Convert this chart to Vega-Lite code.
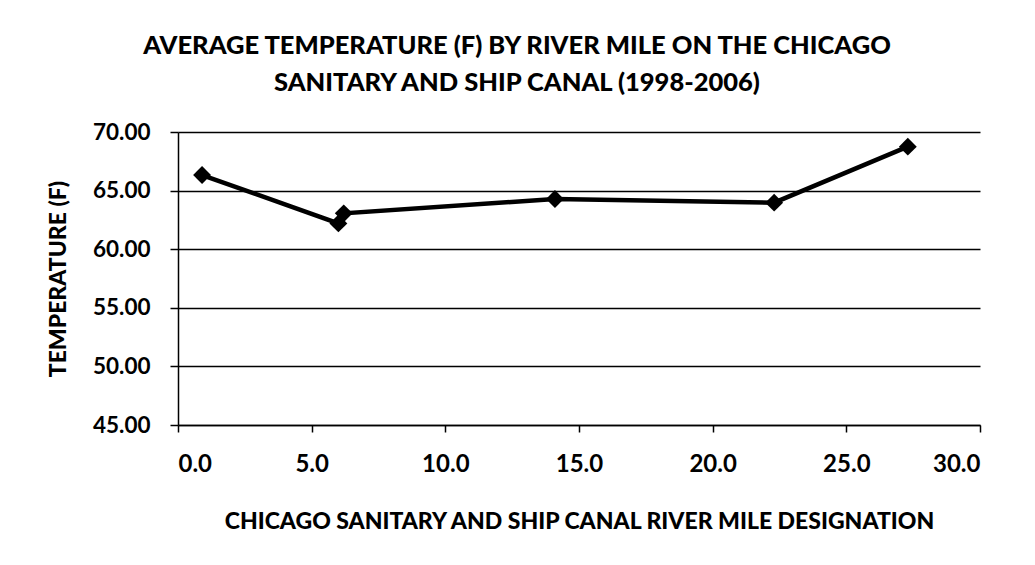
{
  "$schema": "https://vega.github.io/schema/vega-lite/v6.json",
  "autosize": {"type": "none"},
  "width": 802,
  "height": 293,
  "padding": {"left": 178, "top": 132, "right": 55, "bottom": 140},
  "background": "white",
  "title": {
    "text": ["AVERAGE TEMPERATURE (F) BY RIVER MILE ON THE CHICAGO", "SANITARY AND SHIP CANAL (1998-2006)"],
    "font": "Lato",
    "fontSize": 25.5,
    "fontWeight": 900,
    "color": "black",
    "anchor": "middle",
    "frame": "group",
    "dx": -62,
    "lineHeight": 37,
    "offset": 25
  },
  "data": {
    "values": [
      {"mile": 0.9, "temp": 66.33},
      {"mile": 6.0, "temp": 62.2},
      {"mile": 6.2, "temp": 63.06},
      {"mile": 14.1, "temp": 64.28},
      {"mile": 22.3, "temp": 63.97},
      {"mile": 27.3, "temp": 68.75}
    ]
  },
  "mark": {
    "type": "line",
    "color": "black",
    "strokeWidth": 4.5,
    "point": {"shape": "diamond", "size": 320, "filled": true, "color": "black", "opacity": 1}
  },
  "encoding": {
    "x": {
      "field": "mile",
      "type": "quantitative",
      "scale": {"domain": [0, 30], "nice": false, "zero": false},
      "axis": {
        "title": "CHICAGO SANITARY AND SHIP CANAL RIVER MILE DESIGNATION",
        "values": [0, 5, 10, 15, 20, 25, 30],
        "format": ".1f",
        "grid": false,
        "tickSize": 7,
        "labelFontSize": 24,
        "labelPadding": 20,
        "titlePadding": 34
      }
    },
    "y": {
      "field": "temp",
      "type": "quantitative",
      "scale": {"domain": [45, 70], "nice": false, "zero": false},
      "axis": {
        "title": "TEMPERATURE (F)",
        "values": [45, 50, 55, 60, 65, 70],
        "format": ".2f",
        "grid": true,
        "tickSize": 8,
        "labelFontSize": 22.5,
        "labelPadding": 20,
        "titlePadding": 22
      }
    }
  },
  "config": {
    "view": {"stroke": null},
    "axis": {
      "labelFont": "Lato",
      "labelFontWeight": "bold",
      "labelColor": "black",
      "titleFont": "Lato",
      "titleFontSize": 23,
      "titleFontWeight": 900,
      "titleColor": "black",
      "domainColor": "black",
      "domainWidth": 1.5,
      "tickColor": "black",
      "tickWidth": 1.5,
      "gridColor": "black",
      "gridWidth": 1.3,
      "gridOpacity": 1
    }
  }
}
